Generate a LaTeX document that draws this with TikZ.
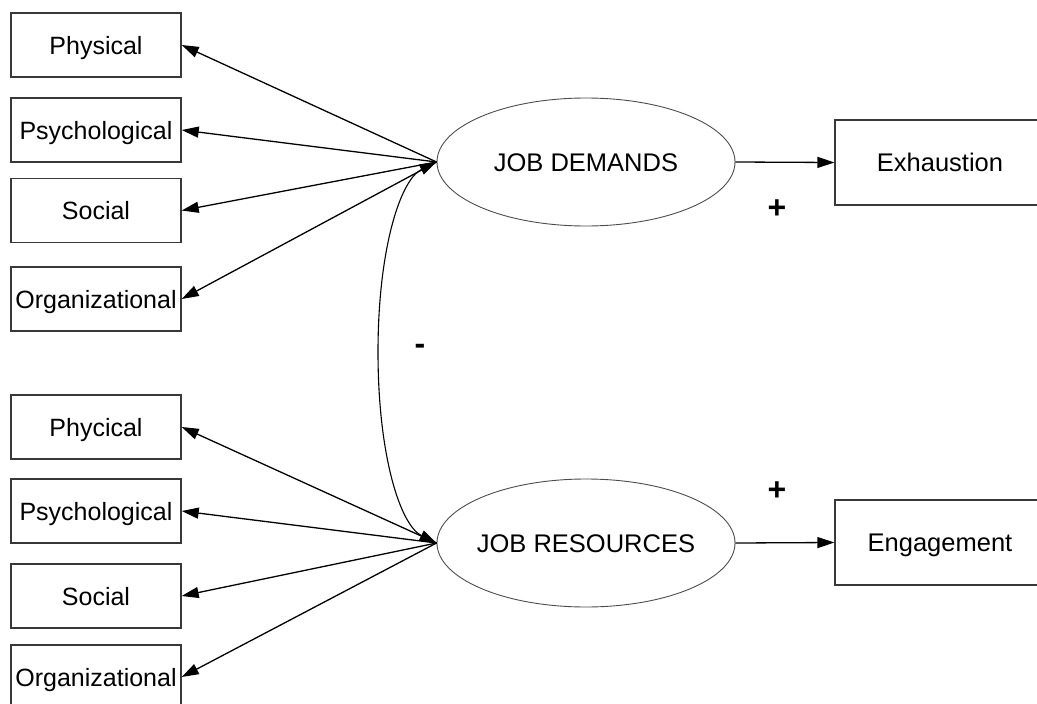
\documentclass[tikz,border=0pt]{standalone}
\usepackage{fontspec}
\setmainfont{Liberation Sans}
\usetikzlibrary{arrows.meta,shapes.geometric}
\begin{document}
\begin{tikzpicture}[x=1pt,y=-1pt,
  factor/.style={draw=black!78,line width=1.4pt,minimum width=170pt,minimum height=64pt,
    inner sep=0pt,text height=18pt,text depth=0pt,font=\fontsize{25}{30}\selectfont},
  outcome/.style={draw=black!78,line width=1.2pt,minimum width=210pt,minimum height=85pt,
    inner sep=0pt,text height=18.3pt,text depth=0pt,font=\fontsize{25.5}{30}\selectfont},
  latent/.style={ellipse,draw=black!70,line width=0.9pt,minimum width=298pt,minimum height=128pt,
    inner sep=0pt,text height=18.3pt,text depth=0pt,font=\fontsize{25.5}{30}\selectfont},
  link/.style={-{Triangle[length=17pt,width=11pt]},line width=1.3pt},
  both/.style={{Triangle[length=17pt,width=11pt]}-{Triangle[length=17pt,width=11pt]},line width=1.1pt},
  sign/.style={font=\fontsize{32}{36}\selectfont\bfseries}]
\useasboundingbox (0,0) rectangle (1037,704);

% latent constructs (zero-width label keeps both ellipses the same size)
\node[latent] (jd) at (586,162) {\makebox[0pt]{JOB DEMANDS}};
\node[latent] (jr) at (586,543) {\makebox[0pt]{JOB RESOURCES}};

% demand indicators
\node[factor] (d1) at (96,45)    {Physical};
\node[factor] (d2) at (96,130)   {Psychological};
\node[factor] (d3) at (96,210.5) {Social};
\node[factor] (d4) at (96,299)   {Organizational};

% resource indicators
\node[factor] (r1) at (96,427) {Phycical};
\node[factor] (r2) at (96,511) {Psychological};
\node[factor] (r3) at (96,596) {Social};
\node[factor] (r4) at (96,677) {Organizational};

% outcomes
\node[outcome] (ex) at (940,162.5) {Exhaustion};
\node[outcome] (en) at (940,542.5) {Engagement};

% loadings
\foreach \n in {d1,d2,d3,d4} \draw[link] (jd.west) -- (\n.east);
\foreach \n in {r1,r2,r3,r4} \draw[link] (jr.west) -- (\n.east);

% effects on outcomes
\draw[link] (jd.east) -- (ex.west);
\draw[link] (jr.east) -- (en.west);

% correlation between demands and resources
\draw[both] (jd.west) .. controls (400,180) and (378,250) .. (378,352)
  .. controls (378,455) and (400,525) .. (jr.west);

% signs
\node[sign] (pd) at (777,209) {+};
\node[sign] (pr) at (777,491) {+};
\node[sign] (mc) at (420,349) {-};
\end{tikzpicture}
\end{document}
